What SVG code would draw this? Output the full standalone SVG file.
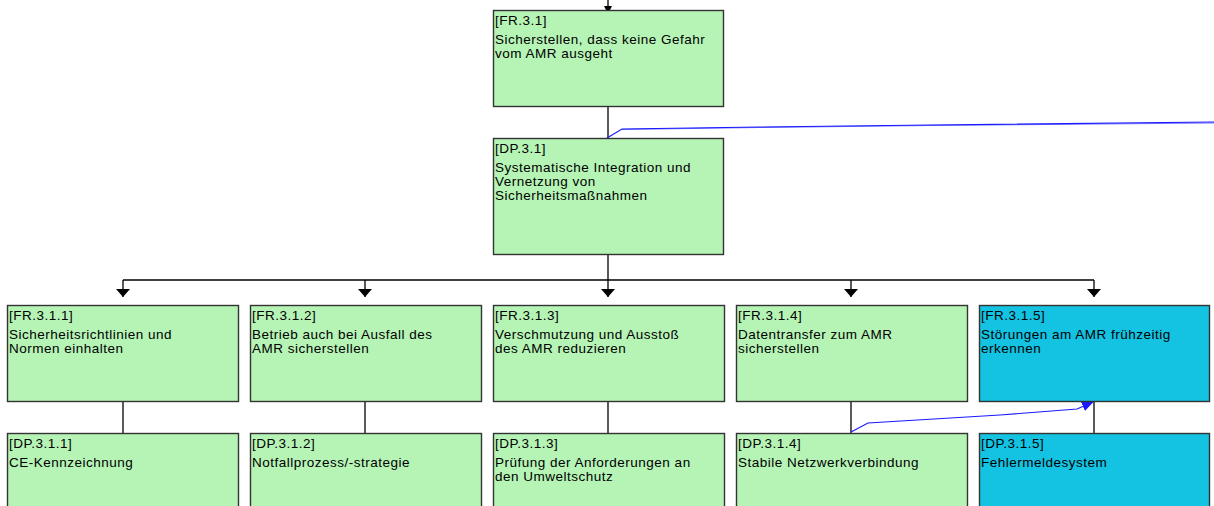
<svg xmlns="http://www.w3.org/2000/svg" width="1214" height="506" viewBox="0 0 1214 506">
<defs>
<marker id="ah" markerWidth="14" markerHeight="8" refX="7" refY="8" orient="0" markerUnits="userSpaceOnUse" viewBox="0 0 14 8">
<path d="M0,0 L14,0 L7,8 Z" fill="#000"/>
</marker>
<marker id="bh" markerWidth="12" markerHeight="10" refX="11" refY="5" orient="auto" markerUnits="userSpaceOnUse" viewBox="0 0 12 10">
<path d="M0,0 L12,5 L0,10 Z" fill="#1a1aff"/>
</marker>
</defs>
<style>
.g{fill:#b6f4b6;stroke:#333;stroke-width:1.4}
.c{fill:#14c2e2;stroke:#333;stroke-width:1.4}
text{font-family:"Liberation Sans",Arial,sans-serif;font-size:13.5px;letter-spacing:0.5px;fill:#000}
.k{fill:none;stroke:#000;stroke-width:1.3}
.b{fill:none;stroke:#1a1aff;stroke-width:1.2}
</style>
<rect width="1214" height="506" fill="#fff"/>
<g id="connectors">
<path class="k" d="M608,0V10"/>
<path d="M604,6H612L610,10H606Z" fill="#000"/>
<path class="k" d="M608,106V138"/>
<path class="k" d="M608,254V280"/>
<path class="k" d="M123,280H1094"/>
<path class="k" d="M123,280V297" marker-end="url(#ah)"/>
<path class="k" d="M365,280V297" marker-end="url(#ah)"/>
<path class="k" d="M608,280V297" marker-end="url(#ah)"/>
<path class="k" d="M851,280V297" marker-end="url(#ah)"/>
<path class="k" d="M1094,280V297" marker-end="url(#ah)"/>
<path class="k" d="M123,401V433"/>
<path class="k" d="M365,401V433"/>
<path class="k" d="M608,401V433"/>
<path class="k" d="M851,401V433"/>
<path class="k" d="M1094,401V433"/>
<path class="b" d="M607,138L622,129L760,127L930,125L1214,122"/>
<path class="b" d="M622,129.5L760,127.5L930,125.5L1214,123" stroke-opacity="0.6"/>
<path class="b" d="M851,432L868,423L1000,415L1077,409L1093,402" marker-end="url(#bh)"/>
</g>
<g id="FR.3.1">
<rect class="g" x="493.5" y="10.5" width="230" height="96"/>
<text x="495" y="25">[FR.3.1]</text>
<text x="495" y="44">Sicherstellen, dass keine Gefahr</text>
<text x="495" y="58">vom AMR ausgeht</text>
</g>
<g id="DP.3.1">
<rect class="g" x="493.5" y="138.5" width="230" height="116"/>
<text x="495" y="153">[DP.3.1]</text>
<text x="495" y="172">Systematische Integration und</text>
<text x="495" y="186">Vernetzung von</text>
<text x="495" y="200">Sicherheitsmaßnahmen</text>
</g>
<g id="FR.3.1.1">
<rect class="g" x="7.5" y="305.5" width="231" height="96"/>
<text x="9" y="320">[FR.3.1.1]</text>
<text x="9" y="339">Sicherheitsrichtlinien und</text>
<text x="9" y="353">Normen einhalten</text>
</g>
<g id="FR.3.1.2">
<rect class="g" x="250.5" y="305.5" width="231" height="96"/>
<text x="252" y="320">[FR.3.1.2]</text>
<text x="252" y="339">Betrieb auch bei Ausfall des</text>
<text x="252" y="353">AMR sicherstellen</text>
</g>
<g id="FR.3.1.3">
<rect class="g" x="493.5" y="305.5" width="231" height="96"/>
<text x="495" y="320">[FR.3.1.3]</text>
<text x="495" y="339">Verschmutzung und Ausstoß</text>
<text x="495" y="353">des AMR reduzieren</text>
</g>
<g id="FR.3.1.4">
<rect class="g" x="736.5" y="305.5" width="231" height="96"/>
<text x="738" y="320">[FR.3.1.4]</text>
<text x="738" y="339">Datentransfer zum AMR</text>
<text x="738" y="353">sicherstellen</text>
</g>
<g id="FR.3.1.5">
<rect class="c" x="979.5" y="305.5" width="230" height="96"/>
<text x="981" y="320">[FR.3.1.5]</text>
<text x="981" y="339">Störungen am AMR frühzeitig</text>
<text x="981" y="353">erkennen</text>
</g>
<g id="DP.3.1.1">
<rect class="g" x="7.5" y="433.5" width="231" height="100"/>
<text x="9" y="448">[DP.3.1.1]</text>
<text x="9" y="467">CE-Kennzeichnung</text>
</g>
<g id="DP.3.1.2">
<rect class="g" x="250.5" y="433.5" width="231" height="100"/>
<text x="252" y="448">[DP.3.1.2]</text>
<text x="252" y="467">Notfallprozess/-strategie</text>
</g>
<g id="DP.3.1.3">
<rect class="g" x="493.5" y="433.5" width="231" height="100"/>
<text x="495" y="448">[DP.3.1.3]</text>
<text x="495" y="467">Prüfung der Anforderungen an</text>
<text x="495" y="481">den Umweltschutz</text>
</g>
<g id="DP.3.1.4">
<rect class="g" x="736.5" y="433.5" width="231" height="100"/>
<text x="738" y="448">[DP.3.1.4]</text>
<text x="738" y="467">Stabile Netzwerkverbindung</text>
</g>
<g id="DP.3.1.5">
<rect class="c" x="979.5" y="433.5" width="230" height="100"/>
<text x="981" y="448">[DP.3.1.5]</text>
<text x="981" y="467">Fehlermeldesystem</text>
</g>
</svg>
